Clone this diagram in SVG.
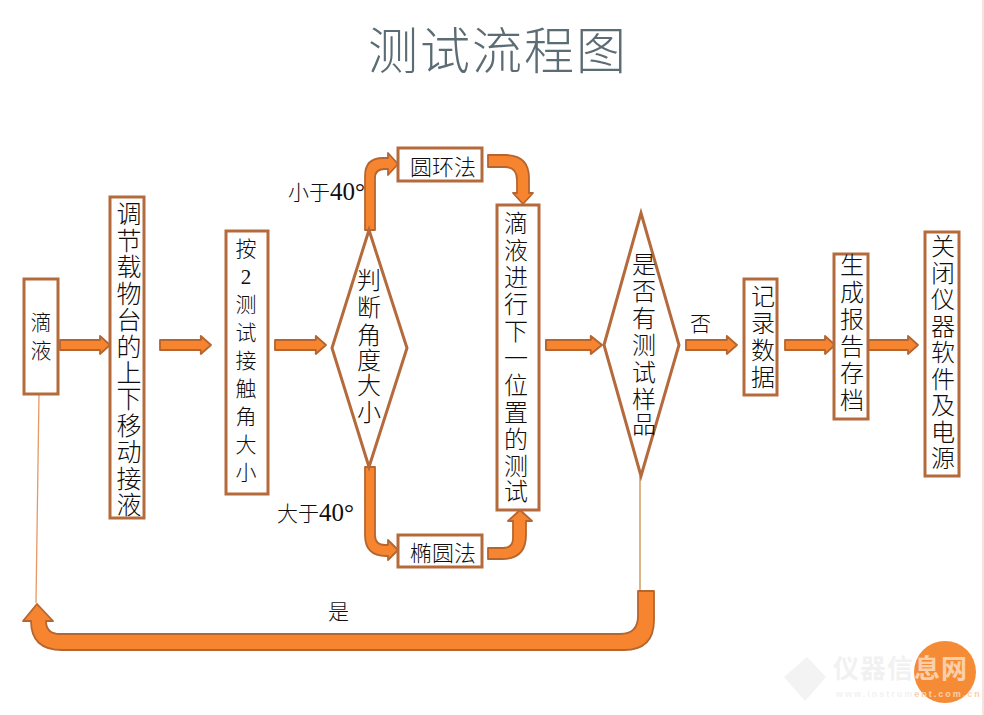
<svg xmlns="http://www.w3.org/2000/svg" width="984" height="715" viewBox="0 0 984 715">
  <style>
    text { font-family: "Noto Sans CJK SC", "Liberation Serif", sans-serif; font-weight: 300; fill: #0e0e0e; }
    .box { fill: #ffffff; stroke: #b56a3c; stroke-width: 3; }
    .arrow { fill: #f7852f; stroke: #b5652f; stroke-width: 1.8; stroke-linejoin: round; }
    .thin { fill: none; stroke-width: 1.3; }
    .v { text-anchor: middle; font-size: 24px; }
    .h { font-size: 22px; }
    .latin { font-family: "Liberation Serif", serif; font-weight: 400; }
  </style>
  <defs>
    <path id="stub" d="M0 -5 H40 V-9 L50 0 L40 9 V5 H0 Z"/>
    <linearGradient id="markFill" gradientUnits="userSpaceOnUse" x1="833" y1="0" x2="968" y2="0">
      <stop offset="0.6" stop-color="#f1f1f1"/>
      <stop offset="0.6" stop-color="#fbcfaa"/>
    </linearGradient>
  </defs>
  <rect width="984" height="715" fill="#ffffff"/>
  <rect x="982" y="0" width="2" height="715" fill="#f3e2de"/>

  <text id="title" x="368" y="69" font-size="50" letter-spacing="2" style="fill:#5c6c74">测试流程图</text>

  <g id="connectors">
    <path class="thin" stroke="#e59a66" d="M39 394 L36 603"/>
    <path class="thin" stroke="#c98d45" d="M640 476 V591"/>
    <use class="arrow" href="#stub" transform="translate(60 345)"/>
    <use class="arrow" href="#stub" transform="translate(160 345) scale(1.02 1)"/>
    <use class="arrow" href="#stub" transform="translate(275 345) scale(1.02 1)"/>
    <use class="arrow" href="#stub" transform="translate(546 345) scale(1.12 1)"/>
    <use class="arrow" href="#stub" transform="translate(686 345) scale(1.02 1)"/>
    <use class="arrow" href="#stub" transform="translate(785 345)"/>
    <use class="arrow" href="#stub" transform="translate(868 345)"/>
    <path class="arrow" d="M365 230 V176 Q365 158 383 158 H388 V153 L398 164 L388 175 V169 H385 Q375 169 375 178 V230 Z"/>
    <path class="arrow" d="M488 155 H505 Q529 155 529 178 V193 H533 L523 204 L513 193 H517 V180 Q517 167 505 167 H488 Z"/>
    <path class="arrow" d="M365 467 V535 Q365 556 386 556 H388 V560 L398 550 L388 540 V545 H385 Q375 545 375 535 V467 Z"/>
    <path class="arrow" d="M488 548 H503 Q513 548 513 538 V521 H508 L520 510 L532 521 H526 V535 Q526 559 502 559 H488 Z"/>
    <path class="arrow" d="M638 591 H654 V620 Q654 650 624 650 H62 Q31 650 31 621 H23 L37 604 L53 621 H46 Q46 634 60 634 H620 Q638 634 638 616 Z"/>
  </g>

  <g id="drip">
    <rect class="box" x="24" y="279" width="34" height="115"/>
    <text class="v" style="font-size:21px" x="41 41" y="330 358">滴液</text>
  </g>
  <g id="stage">
    <rect class="box" x="110" y="197" width="34" height="321"/>
    <text class="v" style="font-size:25px" x="129 129 129 129 129 129 129 129 129 129 129 129" y="223 249.500 276 302.500 329 355.500 382 408 434.500 461 487.500 514">调节载物台的上下移动接液</text>
  </g>
  <g id="measure">
    <rect class="box" x="226" y="231" width="42" height="263"/>
    <text class="v" style="font-size:21px" x="246 246 246 246 246 246 246 246 246" y="256 284 312 340 368 396 424 452 480">按<tspan class="latin">2</tspan>测试接触角大小</text>
  </g>
  <g id="judge">
    <polygon class="box" points="332,348 369,230 407,348 369,467"/>
    <text class="v" x="369 369 369 369 369 369" y="289 316 344 369 394 421">判断角度大小</text>
  </g>
  <g id="ring">
    <rect class="box" x="398" y="148" width="84" height="33"/>
    <text class="h" x="410" y="175">圆环法</text>
  </g>
  <g id="ellipse">
    <rect class="box" x="398" y="535" width="84" height="32"/>
    <text class="h" x="410" y="561">椭圆法</text>
  </g>
  <g id="next">
    <rect class="box" x="497" y="205" width="42" height="305"/>
    <text class="v" x="516 516 516 516 516 516 516 516 516 516 516" y="232 259 286 313 340 367 394 421 448 475 500">滴液进行下一位置的测试</text>
  </g>
  <g id="more">
    <polygon class="box" points="604,345 641,213 679,345 641,476"/>
    <text class="v" x="644 644 644 644 644 644 644" y="273 300 327 354 381 408 433">是否有测试样品</text>
  </g>
  <g id="record">
    <rect class="box" x="744" y="279" width="33" height="116"/>
    <text class="v" x="763 763 763 763" y="305 332 359 386">记录数据</text>
  </g>
  <g id="report">
    <rect class="box" x="834" y="254" width="34" height="165"/>
    <text class="v" x="852 852 852 852 852 852" y="274 301 328 355 382 409">生成报告存档</text>
  </g>
  <g id="shutdown">
    <rect class="box" x="925" y="232" width="34" height="244"/>
    <text class="v" x="943 943 943 943 943 943 943 943 943" y="255 281.500 308 334.500 361 387.500 414 440.500 467">关闭仪器软件及电源</text>
  </g>

  <g id="labels">
    <text class="h" x="288" y="200" style="font-size:21px">小于<tspan class="latin" font-size="25">40°</tspan></text>
    <text class="h" x="277" y="521" style="font-size:21px">大于<tspan class="latin" font-size="25">40°</tspan></text>
    <text class="h" x="690" y="331" style="font-size:21px">否</text>
    <text class="h" x="328" y="619" style="font-size:21px">是</text>
  </g>

  <g id="badge">
    <circle cx="945" cy="672" r="31" fill="#f68b35"/>
    <polygon points="784,677 807,657 826,677 805,701" fill="#f3f3f3"/>
    <text x="833" y="678" font-size="26" letter-spacing="1" style="fill:url(#markFill);font-weight:700">仪器信息网</text>
    <text x="836" y="697" font-size="9" letter-spacing="2" style="font-family:'Liberation Sans',sans-serif;fill:url(#markFill);font-weight:700">www.instrument.com.cn</text>
  </g>
</svg>
